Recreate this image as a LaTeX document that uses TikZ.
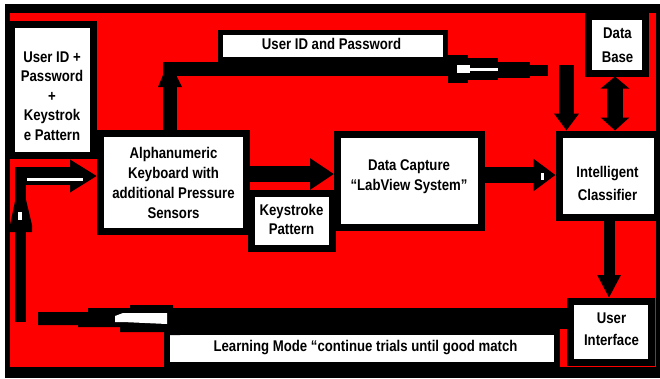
\documentclass[tikz,border=0pt]{standalone}
\usepackage{fontspec}
\setmainfont{Liberation Sans}[FakeStretch=0.85]
\usetikzlibrary{arrows.meta}
\begin{document}
\begin{tikzpicture}[x=1pt,y=-1pt,
  box/.style={draw=black,fill=white,line width=#1,inner sep=0pt},
  box/.default=7pt,
  txt/.style={align=center,inner sep=0pt,font=\fontsize{15.5}{#1}\selectfont\bfseries},
  txt/.default=19.5pt,
  shaft/.style={draw=black,line width=#1}]
\useasboundingbox (0,0) rectangle (660,378);
\fill[white] (0,0) rectangle (660,378);
\fill[black] (5,4) rectangle (660,378);
\fill[red] (10,13) rectangle (656,367);
% boxes
\node[box,minimum width=82pt,minimum height=130.5pt] (uid) at (52.5,89.75) {};
\node[box,minimum width=145.5pt,minimum height=98.5pt] (kb) at (173.25,182.25) {};
\node[box,minimum width=80.5pt,minimum height=54.5pt] (ks) at (291.75,220.75) {};
\node[box,minimum width=144pt,minimum height=93pt] (dc) at (409.5,180.5) {};
\node[box,minimum width=98.5pt,minimum height=83.5pt] (ic) at (608.25,175.75) {};
\node[box,minimum width=56.5pt,minimum height=57pt] (db) at (616.75,44.5) {};
\node[box,minimum width=81pt,minimum height=60.5pt] (ui) at (610.5,331.75) {};
\node[box=5pt,minimum width=225pt,minimum height=27pt] (lb1) at (333,46) {};
\node[box=6pt,minimum width=389.5pt,minimum height=33.5pt] (lb2) at (361.75,348.25) {};
% texts
\node[txt] (uidT) at (52,96) {User ID +\\Password\\+\\Keystrok\\e Pattern};
\node[txt=20pt] (kbT) at (173.5,183) {Alphanumeric\\Keyboard with\\additional Pressure\\Sensors};
\node[txt=19pt] (ksT) at (291.5,219.5) {Keystroke\\Pattern};
\node[txt=20pt] (dcT) at (409,177) {Data Capture\\“LabView System”};
\node[txt=23pt] (icT) at (607.5,183.5) {Intelligent\\Classifier};
\node[txt=24pt] (dbT) at (617.5,45) {Data\\Base};
\node[txt=22pt] (uiT) at (611.5,329) {User\\Interface};
\node[txt] (lb1T) at (331.5,43.5) {User ID and Password};
\node[txt] (lb2T) at (365.5,347.5) {Learning Mode “continue trials until good match};
% top path: keyboard -> up -> right
\coordinate (tA) at (169.5,69);
\coordinate (tB) at (450,69);
\draw[shaft=14pt,line join=miter] (kb.north -| tA) -- (tA) -- (tB);
\fill[black] (158,87) -- (163,75) -- (169.5,68) -- (176,75) -- (182,87) -- cycle;
\fill[black] (448,55) rectangle (468,83);
\fill[black] (468,58) rectangle (498,80);
\fill[black] (498,62) rectangle (530,78);
\fill[black] (530,65) rectangle (548,76);
\fill[white] (457,65) rectangle (470,73);
\fill[white] (470,68) rectangle (498,71);
% down into classifier
\coordinate (tC) at (566.5,65);
\draw[shaft=15pt,-{Triangle[length=17pt,width=24pt]}] (tC) -- (ic.north -| tC);
% keyboard -> data capture
\coordinate (yB) at (0,174);
\draw[shaft=16pt,-{Triangle[length=24pt,width=30pt]}] (kb.east |- yB) -- (dc.west |- yB);
% data capture -> classifier
\coordinate (yC) at (0,175);
\draw[shaft=16pt,-{Triangle[length=22pt,width=31pt]}] (dc.east |- yC) -- (ic.west |- yC);
\fill[white] (541,173) rectangle (544,180);
% data base <-> classifier
\coordinate (xD) at (615,0);
\draw[shaft=16pt,{Triangle[length=12pt,width=28pt]}-{Triangle[length=13pt,width=28pt]}] (db.south -| xD) -- (ic.north -| xD);
% classifier -> user interface
\coordinate (xE) at (609,0);
\draw[shaft=11pt,-{Triangle[length=23pt,width=22pt]}] (ic.south -| xE) -- (ui.north -| xE);
% feedback along bottom
\coordinate (fA) at (178,318);
\draw[shaft=21pt] (ui.west |- fA) -- (fA);
\fill[black] (180,308) -- (173,308) -- (173,305) -- (130,305) -- (130,308) -- (88,308) -- (88,312) -- (38,312)
  -- (38,325) -- (78,325) -- (78,327) -- (120,327) -- (120,332) -- (165,332) -- (165,335) -- (180,335) -- cycle;
\fill[white] (115,316) -- (123,313) -- (167,313) -- (167,324) -- (123,322) -- (115,322) -- cycle;
% left return up and into keyboard
\coordinate (gA) at (20.5,322);
\coordinate (gB) at (20.5,167);
\draw[shaft=11pt] (gA) -- (gB);
\fill[black] (18,187) -- (23,187) -- (32,225) -- (32,232) -- (10,232) -- (10,225) -- cycle;
\fill[white] (18,212) rectangle (22,220);
\coordinate (gC) at (15,176);
\draw[shaft=18pt,-{Triangle[length=27pt,width=31pt]}] (gC) -- (kb.west |- gC);
\fill[white] (27,178) rectangle (83,181);
\end{tikzpicture}
\end{document}
